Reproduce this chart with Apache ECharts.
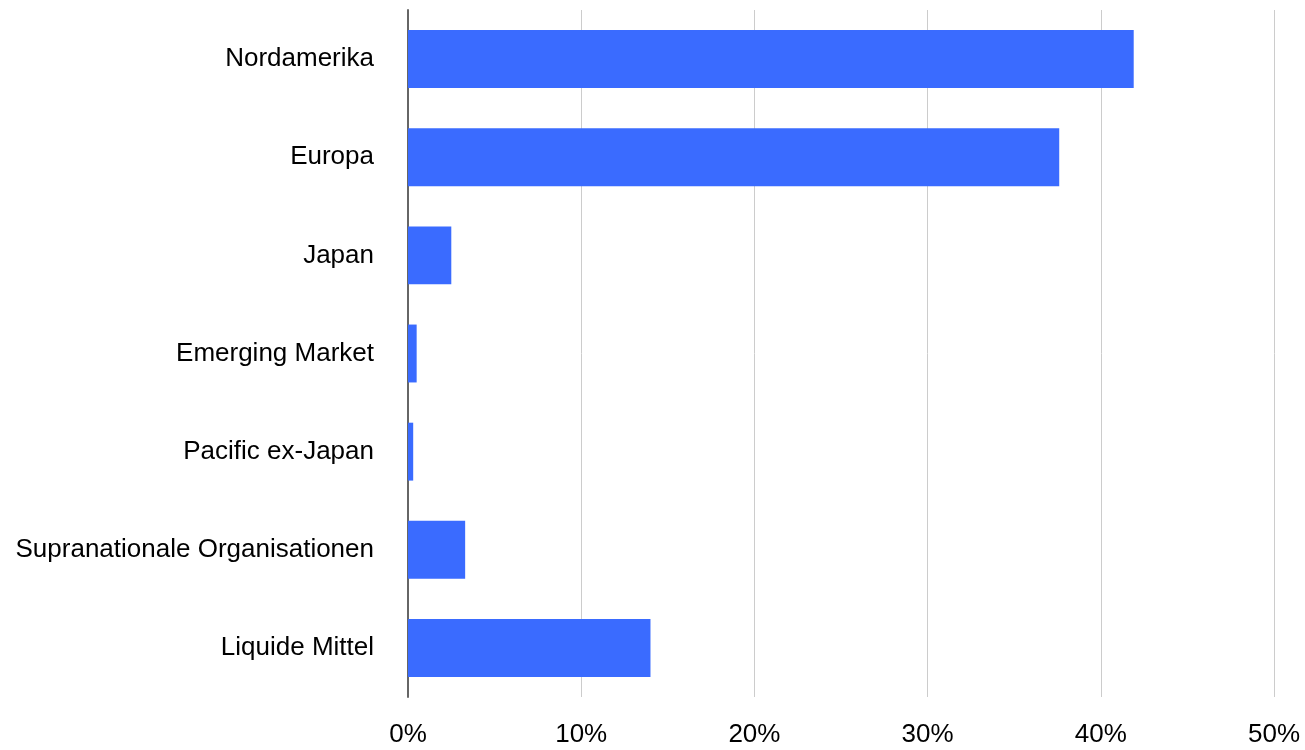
<!DOCTYPE html>
<html>
<head>
<meta charset="utf-8">
<script src="https://cdn.jsdelivr.net/npm/echarts@6/dist/echarts.min.js"></script>
<style>
  html, body { margin: 0; padding: 0; background: #fff; }
  #chart { width: 1305px; height: 750px; }
</style>
</head>
<body>
<div id="chart"></div>
<script>
// Regional allocation (percent of portfolio)
const regions = [
  'Nordamerika',
  'Europa',
  'Japan',
  'Emerging Market',
  'Pacific ex-Japan',
  'Supranationale Organisationen',
  'Liquide Mittel'
];
const shares = [41.9, 37.6, 2.5, 0.5, 0.3, 3.3, 14.0];
const pctTicks = [0, 10, 20, 30, 40, 50];

const FONT = '"Liberation Sans", Arial, sans-serif';

const chart = echarts.init(document.getElementById('chart'), null, { renderer: 'canvas' });
chart.setOption({
  animation: false,
  grid: { left: 408, right: 31, top: 10, bottom: 53, containLabel: false, outerBoundsMode: 'none' },
  xAxis: {
    type: 'value',
    min: pctTicks[0],
    max: pctTicks[pctTicks.length - 1],
    interval: 10,
    axisLine: { show: false },
    axisTick: { show: false },
    splitLine: { show: true, lineStyle: { color: '#cccccc', width: 1 } },
    axisLabel: {
      formatter: v => v + '%',
      fontFamily: FONT,
      fontSize: 26,
      color: '#000',
      margin: 25
    }
  },
  yAxis: {
    type: 'category',
    data: regions,
    inverse: true,
    axisLine: { show: true, lineStyle: { color: '#666666', width: 2 } },
    axisTick: { show: false },
    axisLabel: {
      fontFamily: FONT,
      fontSize: 26,
      color: '#000',
      margin: 34
    }
  },
  series: [{
    type: 'bar',
    data: shares,
    barCategoryGap: '41%',
    itemStyle: { color: '#3A6BFF' }
  }]
});
</script>
</body>
</html>
